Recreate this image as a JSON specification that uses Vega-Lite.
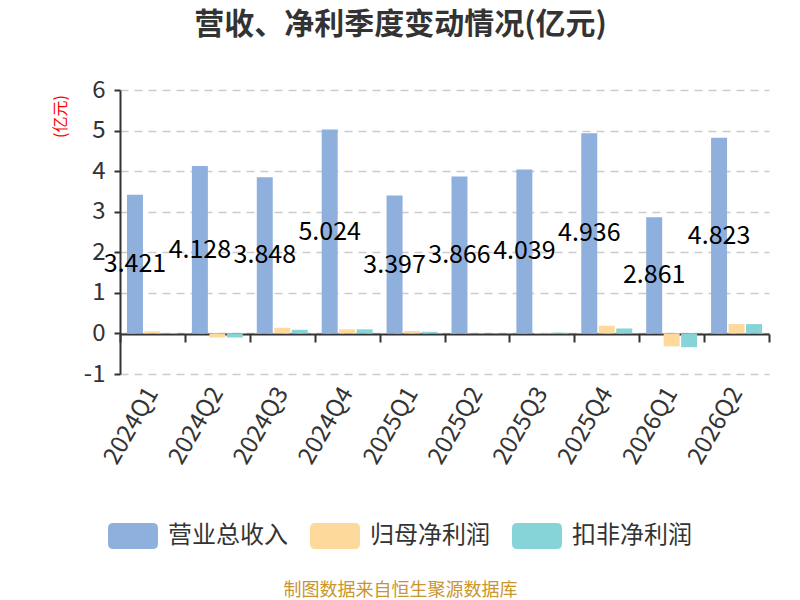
{
  "$schema": "https://vega.github.io/schema/vega-lite/v6.json",
  "autosize": {"type": "none"},
  "padding": {"left": 120, "top": 90, "right": 31, "bottom": 226},
  "width": 649,
  "height": 284,
  "background": "white",
  "config": {
    "font": "Noto Sans CJK SC",
    "view": {"stroke": null}
  },
  "title": {
    "text": "营收、净利季度变动情况(亿元)",
    "fontSize": 30,
    "fontWeight": "bold",
    "color": "#333333",
    "anchor": "middle",
    "frame": "group",
    "dx": -44,
    "offset": 38
  },
  "data": {
    "values": [
      {"quarter": "2024Q1", "type": "营业总收入", "value": 3.421},
      {"quarter": "2024Q1", "type": "归母净利润", "value": 0.05},
      {"quarter": "2024Q1", "type": "扣非净利润", "value": 0.01},
      {"quarter": "2024Q2", "type": "营业总收入", "value": 4.128},
      {"quarter": "2024Q2", "type": "归母净利润", "value": -0.1},
      {"quarter": "2024Q2", "type": "扣非净利润", "value": -0.1},
      {"quarter": "2024Q3", "type": "营业总收入", "value": 3.848},
      {"quarter": "2024Q3", "type": "归母净利润", "value": 0.14},
      {"quarter": "2024Q3", "type": "扣非净利润", "value": 0.09},
      {"quarter": "2024Q4", "type": "营业总收入", "value": 5.024},
      {"quarter": "2024Q4", "type": "归母净利润", "value": 0.1},
      {"quarter": "2024Q4", "type": "扣非净利润", "value": 0.1},
      {"quarter": "2025Q1", "type": "营业总收入", "value": 3.397},
      {"quarter": "2025Q1", "type": "归母净利润", "value": 0.06},
      {"quarter": "2025Q1", "type": "扣非净利润", "value": 0.04},
      {"quarter": "2025Q2", "type": "营业总收入", "value": 3.866},
      {"quarter": "2025Q2", "type": "归母净利润", "value": 0.003},
      {"quarter": "2025Q2", "type": "扣非净利润", "value": 0.002},
      {"quarter": "2025Q3", "type": "营业总收入", "value": 4.039},
      {"quarter": "2025Q3", "type": "归母净利润", "value": 0.01},
      {"quarter": "2025Q3", "type": "扣非净利润", "value": 0.02},
      {"quarter": "2025Q4", "type": "营业总收入", "value": 4.936},
      {"quarter": "2025Q4", "type": "归母净利润", "value": 0.19},
      {"quarter": "2025Q4", "type": "扣非净利润", "value": 0.12},
      {"quarter": "2026Q1", "type": "营业总收入", "value": 2.861},
      {"quarter": "2026Q1", "type": "归母净利润", "value": -0.32},
      {"quarter": "2026Q1", "type": "扣非净利润", "value": -0.34},
      {"quarter": "2026Q2", "type": "营业总收入", "value": 4.823},
      {"quarter": "2026Q2", "type": "归母净利润", "value": 0.23},
      {"quarter": "2026Q2", "type": "扣非净利润", "value": 0.23}
    ]
  },
  "encoding": {
    "x": {
      "field": "quarter",
      "type": "nominal",
      "sort": null,
      "scale": {"paddingInner": 0, "paddingOuter": 0},
      "axis": {
        "orient": "bottom",
        "offset": -40,
        "tickBand": "extent",
        "domainColor": "#333333",
        "domainWidth": 2,
        "tickColor": "#333333",
        "tickWidth": 2,
        "tickSize": 8,
        "labelAngle": -60,
        "labelAlign": "right",
        "labelBaseline": "middle",
        "labelPadding": 47,
        "labelFontSize": 24,
        "labelColor": "#333333",
        "grid": false,
        "title": "制图数据来自恒生聚源数据库",
        "titleColor": "#C9952F",
        "titleFontSize": 18,
        "titleFontWeight": "normal",
        "titleX": 280,
        "titleY": 256,
        "titleAlign": "center",
        "titleBaseline": "middle"
      }
    },
    "xOffset": {
      "field": "type",
      "type": "nominal",
      "scale": {
        "domain": ["营业总收入", "归母净利润", "扣非净利润"],
        "paddingInner": 0.086,
        "paddingOuter": 0.4
      }
    }
  },
  "layer": [
    {
      "mark": {"type": "bar"},
      "encoding": {
        "y": {
          "field": "value",
          "type": "quantitative",
          "scale": {"domain": [-1, 6], "nice": false, "zero": true},
          "axis": {
            "values": [-1, 0, 1, 2, 3, 4, 5, 6],
            "labelExpr": "toString(datum.value)",
            "domainColor": "#333333",
            "domainWidth": 2,
            "tickColor": "#333333",
            "tickWidth": 2,
            "tickSize": 6,
            "labelFontSize": 24,
            "labelColor": "#333333",
            "labelPadding": 9,
            "grid": true,
            "gridColor": "#cccccc",
            "gridWidth": 1.5,
            "gridDash": [8, 6],
            "title": "(亿元)",
            "titleColor": "#ff0000",
            "titleFontSize": 16,
            "titleFontWeight": "normal",
            "titleAngle": -90,
            "titleX": -60,
            "titleY": 26,
            "titleAlign": "center",
            "titleBaseline": "middle"
          }
        },
        "color": {
          "field": "type",
          "type": "nominal",
          "scale": {
            "domain": ["营业总收入", "归母净利润", "扣非净利润"],
            "range": ["#8FAFDC", "#FDD99B", "#86D4D8"]
          },
          "legend": {
            "title": null,
            "orient": "none",
            "direction": "horizontal",
            "legendX": -12,
            "legendY": 421,
            "symbolType": "M-0.79,-0.52 L0.79,-0.52 Q1,-0.52 1,-0.31 L1,0.31 Q1,0.52 0.79,0.52 L-0.79,0.52 Q-1,0.52 -1,0.31 L-1,-0.31 Q-1,-0.52 -0.79,-0.52 Z",
            "symbolSize": 2500,
            "symbolStrokeWidth": 0,
            "symbolOpacity": 1,
            "labelFontSize": 24,
            "labelColor": "#333333",
            "labelOffset": 10,
            "columnPadding": 22
          }
        }
      }
    },
    {
      "transform": [{"filter": "datum.type === '营业总收入'"}],
      "mark": {"type": "text", "fontSize": 25, "color": "#000000", "baseline": "middle", "align": "center"},
      "encoding": {
        "y": {
          "field": "value",
          "type": "quantitative",
          "scale": {"domain": [-2, 12], "nice": false, "zero": false},
          "axis": null
        },
        "text": {"field": "value", "type": "quantitative", "format": ".3f"}
      }
    }
  ],
  "resolve": {"scale": {"y": "independent"}}
}
